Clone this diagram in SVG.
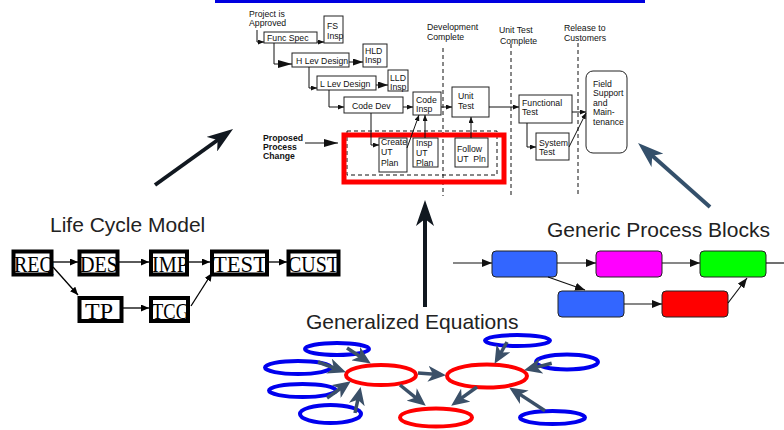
<svg xmlns="http://www.w3.org/2000/svg" width="784" height="430" viewBox="0 0 784 430">
<style>
  .t{font-family:"Liberation Sans",Arial,sans-serif;font-size:8.7px;fill:#111}
  .tb{font-family:"Liberation Sans",Arial,sans-serif;font-size:8.7px;font-weight:bold;fill:#111}
  .pre{white-space:pre}
  .box{fill:#fff;stroke:#222;stroke-width:1}
  .ln{fill:none;stroke:#111;stroke-width:1}
  .dash{fill:none;stroke:#111;stroke-width:1;stroke-dasharray:4 3}
  .title{font-family:"Liberation Sans",Arial,sans-serif;font-size:21px;fill:#222}
  .lc{fill:#fff;stroke:#000;stroke-width:4}
  .lct{font-family:"Liberation Serif","Times New Roman",serif;font-size:24px;fill:#000}
  .lcl{fill:none;stroke:#000;stroke-width:1.3}
  .gp{stroke:#222;stroke-width:1}
  .gl{fill:none;stroke:#111;stroke-width:1.2}
  .re{fill:#fff;stroke:#f00;stroke-width:4}
  .be{fill:#fff;stroke:#0000ee;stroke-width:4}
  .sa{fill:none;stroke:#3b5068;stroke-width:3.5}
  .big{fill:none;stroke:#111820;stroke-width:4}
  .bigs{fill:none;stroke:#34506b;stroke-width:4}
</style>
<defs>
  <marker id="m-s" markerUnits="userSpaceOnUse" markerWidth="6" markerHeight="5" refX="6" refY="2.5" orient="auto">
    <path d="M0,0 L6,2.5 L0,5 z" fill="#111"/>
  </marker>
  <marker id="m-m" markerUnits="userSpaceOnUse" markerWidth="10" markerHeight="7" refX="10" refY="3.5" orient="auto">
    <path d="M0,0 L10,3.5 L0,7 z" fill="#111"/>
  </marker>
  <marker id="m-l" markerUnits="userSpaceOnUse" markerWidth="14" markerHeight="8" refX="14" refY="4" orient="auto">
    <path d="M0,0 L14,4 L0,8 z" fill="#111"/>
  </marker>
  <marker id="m-lc" markerUnits="userSpaceOnUse" markerWidth="8" markerHeight="7" refX="8" refY="3.5" orient="auto">
    <path d="M0,0 L8,3.5 L0,7 z" fill="#000"/>
  </marker>
  <marker id="m-g" markerUnits="userSpaceOnUse" markerWidth="10" markerHeight="8" refX="10" refY="4" orient="auto">
    <path d="M0,0 L10,4 L0,8 z" fill="#111"/>
  </marker>
  <marker id="m-big" markerUnits="userSpaceOnUse" markerWidth="26" markerHeight="18" refX="8" refY="9" orient="auto">
    <path d="M0,0 L26,9 L0,18 L7,9 z" fill="#111820"/>
  </marker>
  <marker id="m-bigs" markerUnits="userSpaceOnUse" markerWidth="26" markerHeight="18" refX="8" refY="9" orient="auto">
    <path d="M0,0 L26,9 L0,18 L7,9 z" fill="#34506b"/>
  </marker>
  <marker id="m-sa" markerUnits="userSpaceOnUse" markerWidth="18" markerHeight="16" refX="7" refY="8" orient="auto">
    <path d="M0,0 L18,8 L0,16 L5,8 z" fill="#3b5068"/>
  </marker>
</defs>

<!-- header rule -->
<rect x="215" y="0" width="430" height="3" fill="#0000e0"/>

<!-- milestone labels and dashed phase lines -->
<g id="milestones">
  <text class="t" x="249" y="17">Project is</text>
  <text class="t" x="249" y="26">Approved</text>
  <text class="t" x="427" y="30">Development</text>
  <text class="t" x="427" y="40">Complete</text>
  <text class="t" x="499" y="33">Unit Test</text>
  <text class="t" x="500" y="44">Complete</text>
  <text class="t" x="564" y="31">Release to</text>
  <text class="t" x="564" y="41">Customers</text>
  <path class="dash" d="M443,48 V196"/>
  <path class="dash" d="M511,44 V196"/>
  <path class="dash" d="M578,43 V196"/>
</g>

<!-- process steps -->
<g id="n-funcspec"><rect class="box" x="264" y="32" width="53" height="11"/><text class="t" x="267" y="40.5">Func Spec</text></g>
<g id="n-fsinsp"><rect class="box" x="324" y="16" width="19" height="27"/><text class="t" x="327" y="29">FS</text><text class="t" x="327" y="38.5">Insp</text></g>
<g id="n-hlev"><rect class="box" x="292" y="53" width="57" height="14"/><text class="t" x="296" y="64">H Lev Design</text></g>
<g id="n-hldinsp"><rect class="box" x="363" y="44" width="24" height="23"/><text class="t" x="365" y="54">HLD</text><text class="t" x="365" y="63">Insp</text></g>
<g id="n-llev"><rect class="box" x="317" y="76" width="59" height="14"/><text class="t" x="320" y="87">L Lev Design</text></g>
<g id="n-lldinsp"><rect class="box" x="388" y="70" width="20" height="21"/><text class="t" x="390" y="81">LLD</text><text class="t" x="390" y="90">Insp</text></g>
<g id="n-codedev"><rect class="box" x="344" y="97" width="59" height="16"/><text class="t" x="352" y="109">Code Dev</text></g>
<g id="n-codeinsp"><rect class="box" x="413" y="92" width="28" height="23"/><text class="t" x="416" y="103">Code</text><text class="t" x="416" y="112">Insp</text></g>
<g id="n-unittest"><rect class="box" x="452" y="87" width="37" height="30"/><text class="t" x="458" y="99">Unit</text><text class="t" x="458" y="109">Test</text></g>
<g id="n-functest"><rect class="box" x="519" y="95" width="53" height="28"/><text class="t" x="522" y="106">Functional</text><text class="t" x="522" y="115">Test</text></g>
<g id="n-systest"><rect class="box" x="536" y="133" width="33" height="27"/><text class="t" x="539" y="146">System</text><text class="t" x="539" y="155">Test</text></g>
<g id="n-field">
  <rect class="box" x="586" y="71" width="41" height="82" rx="7"/>
  <text class="t" x="593" y="87">Field</text>
  <text class="t" x="593" y="96">Support</text>
  <text class="t" x="593" y="105.5">and</text>
  <text class="t" x="593" y="115">Main-</text>
  <text class="t" x="593" y="124.5">tenance</text>
</g>

<!-- proposed change block -->
<g id="n-proposed">
  <rect class="dash" x="347" y="131" width="150" height="44"/>
  <rect x="344" y="135" width="160" height="47" fill="none" stroke="#f00" stroke-width="5"/>
  <text class="tb" x="263" y="141">Proposed</text>
  <text class="tb" x="263" y="150">Process</text>
  <text class="tb" x="263" y="159">Change</text>
</g>
<g id="n-createut"><rect class="box" x="379" y="138" width="28" height="34"/><text class="t" x="381" y="144.5">Create</text><text class="t" x="381" y="155">UT</text><text class="t" x="381" y="166">Plan</text></g>
<g id="n-insput"><rect class="box" x="413" y="138" width="25" height="29"/><text class="t" x="416" y="146">Insp</text><text class="t" x="416" y="156">UT</text><text class="t" x="416" y="166">Plan</text></g>
<g id="n-followut"><rect class="box" x="455" y="138" width="33" height="29"/><text class="t" x="457" y="152">Follow</text><text class="t pre" x="457" y="162">UT  Pln</text></g>

<!-- life cycle model -->
<text class="title" x="50" y="232">Life Cycle Model</text>
<g id="n-req"><rect class="lc" x="13.5" y="251.5" width="38" height="23"/><text class="lct" x="14" y="271.5" textLength="40" lengthAdjust="spacingAndGlyphs">REQ</text></g>
<g id="n-des"><rect class="lc" x="79.5" y="251.5" width="38" height="23"/><text class="lct" x="80" y="271.5" textLength="38" lengthAdjust="spacingAndGlyphs">DES</text></g>
<g id="n-imp"><rect class="lc" x="151" y="251.5" width="36" height="23"/><text class="lct" x="152" y="271.5" textLength="36" lengthAdjust="spacingAndGlyphs">IMP</text></g>
<g id="n-test"><rect class="lc" x="212" y="251.5" width="55" height="23"/><text class="lct" x="213" y="271.5" textLength="54" lengthAdjust="spacingAndGlyphs">TEST</text></g>
<g id="n-cust"><rect class="lc" x="288.5" y="251.5" width="50" height="23"/><text class="lct" x="288" y="271.5" textLength="51" lengthAdjust="spacingAndGlyphs">CUST</text></g>
<g id="n-tp"><rect class="lc" x="79.5" y="298" width="42" height="23"/><text class="lct" x="85" y="318.5" textLength="28" lengthAdjust="spacingAndGlyphs">TP</text></g>
<g id="n-tcg"><rect class="lc" x="151" y="298" width="37" height="23"/><text class="lct" x="152" y="318.5" textLength="37" lengthAdjust="spacingAndGlyphs">TCG</text></g>

<!-- generic process blocks -->
<text class="title" x="547" y="237">Generic Process Blocks</text>
<g id="n-gp1"><rect class="gp" x="492" y="251" width="65" height="26" rx="4" fill="#3366ff"/></g>
<g id="n-gp2"><rect class="gp" x="596" y="251" width="66" height="26" rx="4" fill="#ff00ff"/></g>
<g id="n-gp3"><rect class="gp" x="700" y="251" width="66" height="26" rx="4" fill="#00ff00"/></g>
<g id="n-gp4"><rect class="gp" x="558" y="291" width="66" height="26" rx="4" fill="#3366ff"/></g>
<g id="n-gp5"><rect class="gp" x="662" y="291" width="66" height="26" rx="4" fill="#ff0000"/></g>

<!-- generalized equations -->
<text class="title" x="306" y="329">Generalized Equations</text>
<g id="n-eq-r1"><ellipse class="re" cx="381" cy="375" rx="35" ry="10"/></g>
<g id="n-eq-r2"><ellipse class="re" cx="487" cy="376" rx="40" ry="11.5"/></g>
<g id="n-eq-r3"><ellipse class="re" cx="436" cy="417.5" rx="36" ry="9"/></g>
<g id="n-eq-b1"><ellipse class="be" cx="337" cy="349" rx="32" ry="6"/></g>
<g id="n-eq-b2"><ellipse class="be" cx="298" cy="367.5" rx="33" ry="6.5"/></g>
<g id="n-eq-b3"><ellipse class="be" cx="302.5" cy="390.5" rx="33.5" ry="6.5"/></g>
<g id="n-eq-b4"><ellipse class="be" cx="330.5" cy="414" rx="30.5" ry="9"/></g>
<g id="n-eq-b5"><ellipse class="be" cx="517.5" cy="340.5" rx="32.5" ry="5.5"/></g>
<g id="n-eq-b6"><ellipse class="be" cx="567" cy="362" rx="31" ry="7.5"/></g>
<g id="n-eq-b7"><ellipse class="be" cx="552.5" cy="417.5" rx="32.5" ry="6.5"/></g>

<g id="connectors">
  <!-- process flow -->
  <path class="ln" d="M257,30 V42 H264" marker-end="url(#m-s)"/>
  <path class="ln" d="M317,42 H324" marker-end="url(#m-s)"/>
  <path class="ln" d="M274,43 V64 H292" marker-end="url(#m-l)"/>
  <path class="ln" d="M349,62 H363" marker-end="url(#m-m)"/>
  <path class="ln" d="M309,67 V88 H317" marker-end="url(#m-s)"/>
  <path class="ln" d="M376,85 H388" marker-end="url(#m-m)"/>
  <path class="ln" d="M329,90 V107 H344" marker-end="url(#m-s)"/>
  <path class="ln" d="M403,107 H413" marker-end="url(#m-s)"/>
  <path class="ln" d="M441,107 H452" marker-end="url(#m-s)"/>
  <path class="ln" d="M489,107 H519" marker-end="url(#m-s)"/>
  <path class="ln" d="M371,113 V145 H379" marker-end="url(#m-s)"/>
  <path class="ln" d="M407,148 L419,115" marker-end="url(#m-s)"/>
  <path class="ln" d="M425,138 V115" marker-end="url(#m-s)"/>
  <path class="ln" d="M471,138 V117" marker-end="url(#m-s)"/>
  <path class="ln" d="M527,123 V147 H536" marker-end="url(#m-s)"/>
  <path class="ln" d="M572,112 H586" marker-end="url(#m-s)"/>
  <path class="ln" d="M569,147 L586,113" marker-end="url(#m-s)"/>
  <path class="ln" d="M305,143 H338" marker-end="url(#m-l)"/>

  <!-- life cycle flow -->
  <path class="lcl" d="M53,262 H78" marker-end="url(#m-lc)"/>
  <path class="lcl" d="M119,262 H149" marker-end="url(#m-lc)"/>
  <path class="lcl" d="M189,262 H210" marker-end="url(#m-lc)"/>
  <path class="lcl" d="M269,262 H287" marker-end="url(#m-lc)"/>
  <path class="lcl" d="M53,267 L78,295" marker-end="url(#m-lc)"/>
  <path class="lcl" d="M123,308 H149" marker-end="url(#m-lc)"/>
  <path class="lcl" d="M191,306 L212,273" marker-end="url(#m-lc)"/>

  <!-- generic block flow -->
  <path class="gl" d="M453,263 H492" marker-end="url(#m-g)"/>
  <path class="gl" d="M557,263 H596" marker-end="url(#m-g)"/>
  <path class="gl" d="M662,263 H700" marker-end="url(#m-g)"/>
  <path class="gl" d="M766,263 H784"/>
  <path class="gl" d="M548,277 L585,290" marker-end="url(#m-g)"/>
  <path class="gl" d="M624,304 H662" marker-end="url(#m-g)"/>
  <path class="gl" d="M728,303 L747,278" marker-end="url(#m-g)"/>

  <!-- equation links -->
  <path class="sa" d="M347,348 L361.6,357.5" marker-end="url(#m-sa)"/>
  <path class="sa" d="M318,362 L335.6,368.5" marker-end="url(#m-sa)"/>
  <path class="sa" d="M327,398 L341.8,387.5" marker-end="url(#m-sa)"/>
  <path class="sa" d="M355,413 L358.3,397.7" marker-end="url(#m-sa)"/>
  <path class="sa" d="M418,373 L435,374.3" marker-end="url(#m-sa)"/>
  <path class="sa" d="M400,385 L417.2,398.8" marker-end="url(#m-sa)"/>
  <path class="sa" d="M477,387 L460.1,399.2" marker-end="url(#m-sa)"/>
  <path class="sa" d="M507,342 L500,354.3" marker-end="url(#m-sa)"/>
  <path class="sa" d="M551.7,363.3 L534.7,367.6" marker-end="url(#m-sa)"/>
  <path class="sa" d="M545,410.7 L518.4,393.4" marker-end="url(#m-sa)"/>

  <!-- large pointers -->
  <path class="big" d="M155,185 L218.4,139.5" marker-end="url(#m-big)"/>
  <path class="big" d="M425,307 V218" marker-end="url(#m-big)"/>
  <path class="bigs" d="M710,207 L651.5,155" marker-end="url(#m-bigs)"/>
</g>
</svg>
